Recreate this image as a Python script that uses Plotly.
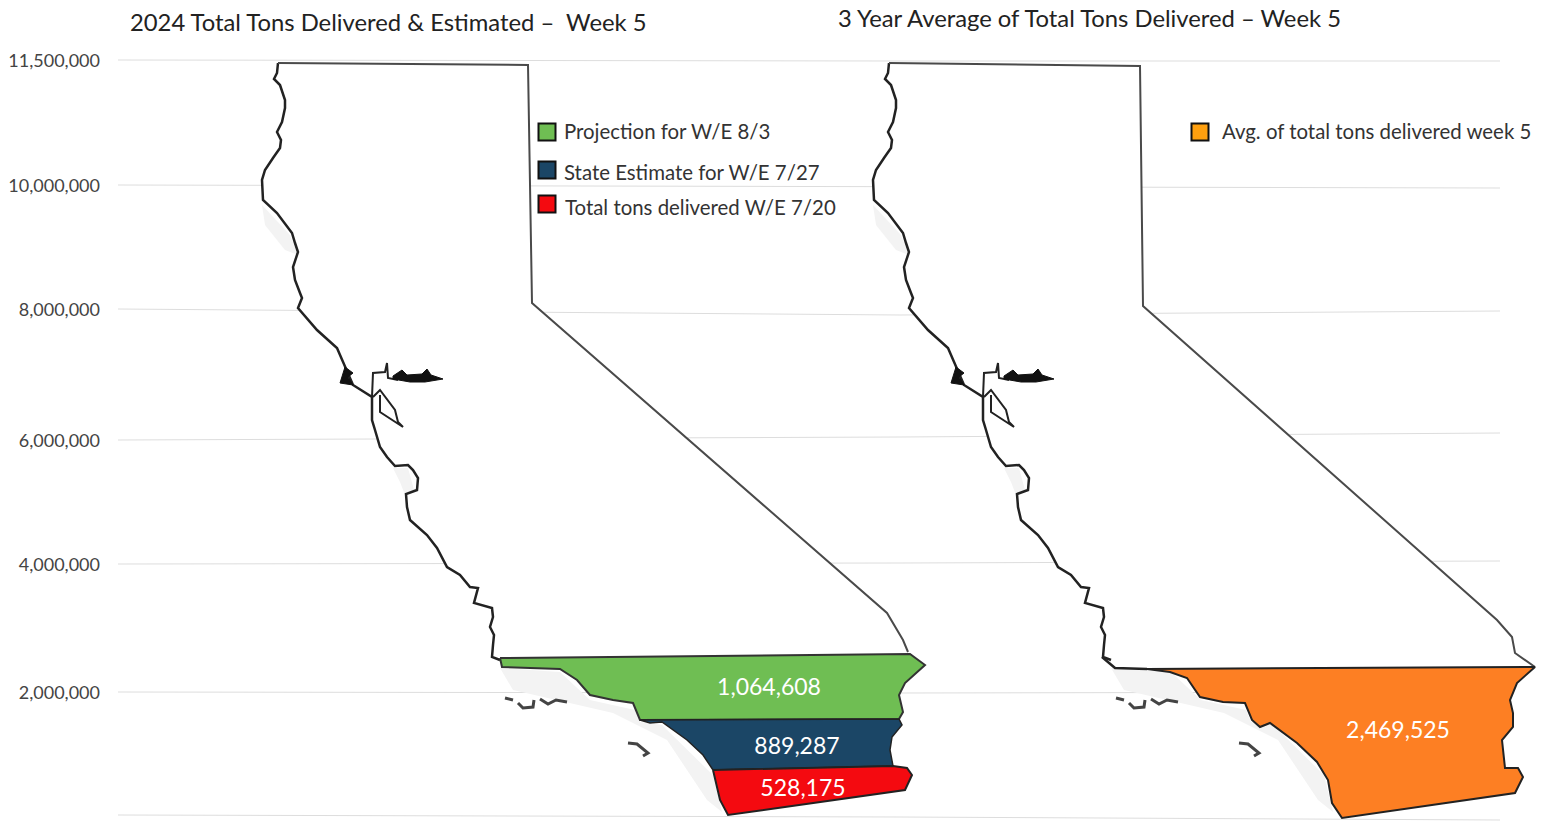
import plotly.graph_objects as go

# ---- axis ----
tick_labels = ["0", "2,000,000", "4,000,000", "6,000,000", "8,000,000", "10,000,000", "11,500,000"]
tick_rows = [816, 693, 565, 441, 310, 186, 61]          # the drawn scale of the picture is uneven
grid_x = [118, 900, 1500]
grid_y = [[815, 817, 820], [692, 693, 692], [564, 563, 561], [440, 437, 433],
          [309, 315, 311], [185, 187, 188], [60, 61, 61]]

# ---- values ----
left_values = [1064608, 889287, 528175]
right_values = [2469525]
left_names = ["Projection for W/E 8/3", "State Estimate for W/E 7/27", "Total tons delivered W/E 7/20"]
right_names = ["Avg. of total tons delivered week 5"]
left_colors = ["#6FBE53", "#1B4666", "#F40A10"]
right_color = "#FD7F23"
right_key_color = "#FFA00F"

# ---- map outline ----
coast_x = [278, 277, 274, 280, 285, 285, 282, 277, 281, 280, 273, 265, 262, 263, 277, 292, 295, 298,
           293, 295, 300, 302, 298, 317, 337, 345, 353, 372, 372, 375, 380, 387, 395, 408, 413, 418,
           417, 406, 407, 410, 427, 437, 447, 460, 470, 478, 474, 492, 493, 490, 494, 493, 492, 500]
coast_y = [63, 73, 79, 85, 100, 108, 122, 132, 140, 148, 158, 170, 180, 200, 213, 233, 243, 252,
           267, 280, 293, 298, 308, 330, 348, 367, 385, 397, 420, 430, 447, 457, 466, 465, 470, 478,
           490, 494, 507, 520, 535, 548, 567, 575, 587, 588, 603, 608, 617, 627, 635, 645, 657, 660]
left_top_x = [278, 528, 532, 873, 887, 903, 908]
left_top_y = [63, 65, 303, 600, 613, 640, 652]
right_top_x = [889, 1140, 1143, 1497, 1512, 1515, 1535]
right_top_y = [63, 66, 306, 620, 637, 653, 667]

green_x = [500, 910, 925, 905, 899, 903, 899, 640, 633, 613, 590, 577, 560, 537, 502]
green_y = [658, 654, 665, 683, 695, 712, 719, 720, 703, 700, 695, 680, 669, 668, 667]
navy_x = [640, 899, 902, 892, 890, 893, 713, 703, 687, 662, 650]
navy_y = [720, 719, 725, 737, 750, 766, 770, 755, 740, 722, 723]
red_x = [713, 893, 907, 912, 905, 728, 720]
red_y = [770, 766, 768, 775, 790, 815, 800]
orange_x = [1147, 1535, 1517, 1510, 1513, 1513, 1502, 1505, 1518, 1523, 1515, 1342, 1332, 1328, 1317,
            1297, 1270, 1260, 1252, 1245, 1223, 1200, 1187, 1170]
orange_y = [669, 667, 683, 700, 713, 727, 740, 768, 768, 777, 793, 818, 803, 780, 762,
            743, 723, 727, 720, 703, 702, 697, 678, 672]

delta_x = [393, 402, 407, 422, 427, 431, 443, 425, 410, 393]
delta_y = [376, 370, 375, 374, 369, 375, 379, 382, 382, 379]
marin_x = [345, 353, 348, 353, 340, 345]
marin_y = [367, 373, 377, 385, 383, 367]
bay_x = [372, 373, 385, 387, 388, 398]
bay_y = [397, 373, 372, 363, 378, 380]
south_bay_x = [373, 380, 395, 398, 403, 380, 380]
south_bay_y = [397, 390, 410, 422, 427, 412, 395]
islands = [([505, 513], [698, 700]), ([518, 523, 533, 534], [703, 708, 707, 700]),
           ([540, 548, 556, 567], [699, 704, 700, 702]), ([628, 637, 648, 643], [743, 744, 753, 756])]
shadow_low_x = [500, 560, 590, 635, 640, 662, 713, 722, 707, 667, 613, 513]
shadow_low_y = [668, 672, 700, 710, 722, 725, 775, 812, 800, 740, 713, 690]
shadow_up_x = [262, 290, 298, 285, 265]
shadow_up_y = [205, 235, 255, 250, 225]
shadow_mid_x = [393, 408, 414, 405, 400]
shadow_mid_y = [468, 468, 490, 495, 482]
key_x = [547, 547, 547, 1200]
key_y = [132, 170, 204, 132]
key_text_x = [564, 564, 565, 1222]
key_text_y = [134, 175, 210, 134]
label_x = [769, 797, 803, 1398]
label_y = [689, 748, 790, 732]

FONT = "Lato, Carlito, Calibri, sans-serif"
INK = "#333333"
fig = go.Figure()


def line(xs, ys, color=INK, width=2):
    fig.add_trace(go.Scatter(x=xs, y=ys, mode="lines", line=dict(color=color, width=width),
                             hoverinfo="skip", showlegend=False))


def area(xs, ys, fill, color=INK, width=1.5):
    fig.add_trace(go.Scatter(x=list(xs) + [xs[0]], y=list(ys) + [ys[0]], mode="lines", fill="toself",
                             fillcolor=fill, line=dict(color=color, width=width),
                             hoverinfo="skip", showlegend=False))


for ys in grid_y:
    line(grid_x, ys, "#DDDDDD", 1)

for dx, top_x, top_y in [(0, left_top_x, left_top_y), (611, right_top_x, right_top_y)]:
    cx = [v + dx for v in coast_x]
    area([v + dx for v in shadow_low_x], shadow_low_y, "#F3F3F3", "#F3F3F3", 0)
    area([v + dx for v in shadow_up_x], shadow_up_y, "#F3F3F3", "#F3F3F3", 0)
    area([v + dx for v in shadow_mid_x], shadow_mid_y, "#F3F3F3", "#F3F3F3", 0)
    outline_x = cx + list(reversed(top_x))
    outline_y = list(coast_y) + list(reversed(top_y))
    area(outline_x, outline_y, "#FFFFFF", "#FFFFFF", 0)
    line(cx, coast_y, "#222222", 2.5)
    line(top_x, top_y, "#4A4A4A", 2)
    line([v + dx for v in bay_x], bay_y, "#222222", 2)
    line([v + dx for v in south_bay_x], south_bay_y, "#222222", 2)
    area([v + dx for v in delta_x], delta_y, "#111111", "#111111", 1)
    area([v + dx for v in marin_x], marin_y, "#111111", "#111111", 1)
    for ix, iy in islands:
        line([v + dx for v in ix], iy, "#444444", 3)

area(green_x, green_y, left_colors[0], "#333333", 2)
area(navy_x, navy_y, left_colors[1], "#222222", 1.5)
area(red_x, red_y, left_colors[2], "#222222", 2)
line([1102 + 0, 1115, 1147], [657, 668, 669], "#222222", 2.5)
area(orange_x, orange_y, right_color, "#222222", 2)

# value labels
all_values = left_values + right_values
fig.add_trace(go.Scatter(x=label_x, y=label_y, mode="text", text=[f"{v:,}" for v in all_values],
                         textposition="middle center", textfont=dict(family=FONT, size=23, color="#FFFFFF"),
                         hoverinfo="skip", showlegend=False))

# colour keys
fig.add_trace(go.Scatter(x=key_x, y=key_y, mode="markers",
                         marker=dict(symbol="square", size=17, color=left_colors + [right_key_color],
                                     line=dict(color="#111111", width=2)),
                         hoverinfo="skip", showlegend=False))
fig.add_trace(go.Scatter(x=key_text_x, y=key_text_y, mode="text", text=left_names + right_names,
                         textposition="middle right", textfont=dict(family=FONT, size=20.4, color=INK),
                         hoverinfo="skip", showlegend=False))

titles = ["2024 Total Tons Delivered & Estimated –  Week 5", "3 Year Average of Total Tons Delivered – Week 5"]
title_x = [128, 836]
title_y = [22, 18]
for t, x, y in zip(titles, title_x, title_y):
    fig.add_annotation(x=x, y=y, text=t, showarrow=False, xanchor="left", yanchor="middle",
                       font=dict(family=FONT, size=23.8, color="#222222"))

fig.update_layout(
    width=1551, height=823, margin=dict(l=104, r=0, t=0, b=0),
    paper_bgcolor="#FFFFFF", plot_bgcolor="#FFFFFF", showlegend=False,
    xaxis=dict(range=[104, 1551], visible=False, fixedrange=True),
    yaxis=dict(range=[823, 0], showgrid=False, zeroline=False, showline=False, ticks="",
               tickmode="array", tickvals=tick_rows, ticktext=tick_labels, ticklabelstandoff=3,
               tickfont=dict(family=FONT, size=18, color="#444444"), fixedrange=True),
)
fig.write_html("out.html", post_script="document.body.style.margin='0';document.body.style.overflow='hidden';",
               config={"displayModeBar": False})
